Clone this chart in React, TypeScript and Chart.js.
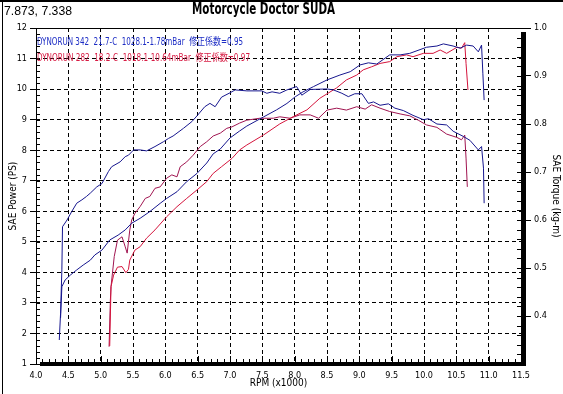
import React, { useEffect, useRef } from 'react';
import { Chart, registerables } from 'chart.js';

Chart.register(...registerables);

// ---------- text ----------
const headerCoords = '7.873, 7.338';
const chartTitle = 'Motorcycle Doctor SUDA';
const runLabels = [
  'DYNORUN 342  21.7-C  1028.1-1.78mBar  修正係数=0.95',
  'DYNORUN 282  18.2-C  1018.1-10.64mBar  修正係数=0.97',
];
const xTitle = 'RPM (x1000)';
const powerTitle = 'SAE Power (PS)';
const torqueTitle = 'SAE Torque (kg-m)';

// ---------- ticks ----------
const rpmTicks = [4.0, 4.5, 5.0, 5.5, 6.0, 6.5, 7.0, 7.5, 8.0, 8.5, 9.0, 9.5, 10.0, 10.5, 11.0, 11.5];
const powerTicks = [1, 2, 3, 4, 5, 6, 7, 8, 9, 10, 11, 12];
const torqueTicks = [0.4, 0.5, 0.6, 0.7, 0.8, 0.9, 1.0];
const torqueMin = 0.3;
const rpmMinor = 0.1;
const powerMinor = 0.2;
const torqueMinor = 0.02;

// ---------- run 342 (blue) ----------
const blueTorqueRpm = [4.36, 4.38, 4.40, 4.41, 4.48, 4.55, 4.63, 4.71, 4.78, 4.84, 4.94, 5.02, 5.12, 5.17, 5.30, 5.38, 5.43, 5.51, 5.61, 5.71, 5.84, 5.97, 6.05, 6.12, 6.28, 6.41, 6.49, 6.61, 6.69, 6.77, 6.87, 7.00, 7.08, 7.26, 7.49, 7.57, 7.65, 7.77, 7.88, 8.03, 8.11, 8.24, 8.50, 8.60, 8.73, 8.83, 8.93, 9.04, 9.14, 9.22, 9.32, 9.45, 9.55, 9.68, 9.83, 9.99, 10.07, 10.20, 10.35, 10.45, 10.61, 10.71, 10.84, 10.89, 10.92, 10.93];
const blueTorque = [0.350, 0.406, 0.496, 0.586, 0.600, 0.617, 0.635, 0.642, 0.649, 0.656, 0.669, 0.676, 0.701, 0.711, 0.721, 0.732, 0.735, 0.746, 0.746, 0.744, 0.753, 0.763, 0.770, 0.775, 0.791, 0.805, 0.817, 0.836, 0.843, 0.836, 0.856, 0.865, 0.871, 0.869, 0.869, 0.864, 0.867, 0.864, 0.871, 0.878, 0.860, 0.872, 0.873, 0.871, 0.864, 0.857, 0.863, 0.863, 0.843, 0.846, 0.839, 0.842, 0.833, 0.828, 0.818, 0.809, 0.811, 0.800, 0.798, 0.785, 0.774, 0.766, 0.746, 0.753, 0.708, 0.635];
const bluePowerRpm = [4.38, 4.40, 4.45, 4.53, 4.63, 4.73, 4.84, 4.91, 5.02, 5.14, 5.27, 5.38, 5.48, 5.61, 5.76, 5.92, 6.02, 6.18, 6.33, 6.49, 6.64, 6.74, 6.85, 7.00, 7.15, 7.26, 7.52, 7.72, 7.88, 8.01, 8.13, 8.29, 8.50, 8.70, 8.86, 9.01, 9.14, 9.27, 9.47, 9.63, 9.78, 10.04, 10.20, 10.30, 10.45, 10.56, 10.66, 10.76, 10.84, 10.89, 10.91, 10.93];
const bluePower = [2.51, 3.53, 3.75, 3.91, 4.08, 4.24, 4.40, 4.57, 4.73, 5.06, 5.22, 5.39, 5.61, 5.77, 5.99, 6.26, 6.42, 6.64, 6.97, 7.24, 7.58, 7.88, 8.04, 8.40, 8.63, 8.79, 9.09, 9.32, 9.53, 9.75, 9.91, 10.08, 10.30, 10.46, 10.57, 10.79, 10.86, 10.82, 11.12, 11.12, 11.17, 11.37, 11.41, 11.48, 11.41, 11.34, 11.44, 11.41, 11.22, 11.44, 10.52, 9.64];

// ---------- run 282 (red) ----------
const redTorqueRpm = [5.13, 5.15, 5.16, 5.21, 5.26, 5.33, 5.38, 5.41, 5.45, 5.48, 5.53, 5.61, 5.69, 5.76, 5.84, 5.92, 6.02, 6.10, 6.18, 6.23, 6.33, 6.43, 6.54, 6.64, 6.74, 6.85, 6.95, 7.03, 7.15, 7.26, 7.46, 7.67, 7.77, 7.93, 8.08, 8.24, 8.37, 8.50, 8.65, 8.80, 8.96, 9.09, 9.19, 9.32, 9.47, 9.63, 9.78, 9.91, 10.04, 10.20, 10.35, 10.51, 10.58, 10.63, 10.65, 10.67];
const redTorque = [0.336, 0.433, 0.461, 0.524, 0.558, 0.565, 0.544, 0.531, 0.579, 0.600, 0.614, 0.628, 0.645, 0.649, 0.666, 0.669, 0.687, 0.694, 0.690, 0.711, 0.721, 0.735, 0.753, 0.763, 0.775, 0.781, 0.791, 0.794, 0.802, 0.808, 0.812, 0.812, 0.815, 0.812, 0.819, 0.819, 0.812, 0.829, 0.833, 0.829, 0.836, 0.831, 0.840, 0.833, 0.826, 0.821, 0.817, 0.808, 0.798, 0.793, 0.779, 0.772, 0.767, 0.777, 0.729, 0.669];
const redPowerRpm = [5.14, 5.16, 5.20, 5.26, 5.33, 5.39, 5.43, 5.45, 5.53, 5.61, 5.71, 5.84, 6.02, 6.18, 6.33, 6.49, 6.64, 6.74, 6.87, 7.03, 7.15, 7.26, 7.52, 7.77, 7.98, 8.19, 8.39, 8.52, 8.65, 8.80, 8.96, 9.06, 9.19, 9.32, 9.47, 9.58, 9.73, 9.83, 9.99, 10.14, 10.25, 10.35, 10.51, 10.58, 10.63, 10.65, 10.68];
const redPower = [1.59, 3.53, 3.91, 4.17, 4.19, 3.99, 4.10, 4.40, 4.73, 4.84, 5.12, 5.39, 5.82, 6.15, 6.42, 6.70, 6.97, 7.24, 7.46, 7.73, 8.01, 8.17, 8.50, 8.86, 9.10, 9.32, 9.70, 9.87, 10.04, 10.30, 10.46, 10.63, 10.73, 10.84, 10.90, 11.06, 11.12, 11.06, 11.17, 11.17, 11.28, 11.17, 11.37, 11.34, 11.52, 10.84, 9.97];

// ---------- styles ----------
const NARROW = '"Liberation Sans Narrow", "DejaVu Sans Condensed", "Liberation Sans", "Noto Sans CJK JP", sans-serif';
const BLUE_LINE = '#16168e';
const RED_POWER = '#d4143c';
const RED_TORQUE = '#a01450';
const LEGEND_COLORS = ['#1c2cc4', '#d81c44'];

const zip = (xs: number[], ys: number[]) => xs.map((x, i) => ({ x, y: ys[i] }));

function fitText(ctx: CanvasRenderingContext2D, text: string, x: number, y: number, width: number, font: string, color: string) {
  ctx.save();
  ctx.font = font;
  ctx.fillStyle = color;
  ctx.textAlign = 'left';
  ctx.textBaseline = 'alphabetic';
  const w = ctx.measureText(text).width || 1;
  ctx.translate(x, y);
  ctx.scale(width / w, 1);
  ctx.fillText(text, 0, 0);
  ctx.restore();
}

const decorPlugin = {
  id: 'decor',
  afterDraw(chart: any) {
    const { ctx, chartArea: a, scales } = chart;
    const xs = scales.x;
    const ys = scales.y;
    const ts = scales.y1;
    ctx.save();
    ctx.fillStyle = '#000';
    // sunken outer frame (top / left)
    ctx.fillRect(0, 0, chart.width, 2);
    ctx.fillRect(2, 0, 1, chart.height);

    // plot frame top / left
    ctx.strokeStyle = '#000';
    ctx.lineWidth = 1;
    ctx.beginPath();
    ctx.moveTo(a.left + 0.5, a.bottom);
    ctx.lineTo(a.left + 0.5, a.top + 0.5);
    ctx.lineTo(a.right, a.top + 0.5);
    ctx.stroke();

    // minor ticks
    ctx.beginPath();
    const xMin = rpmTicks[0];
    const xMax = rpmTicks[rpmTicks.length - 1];
    const nx = Math.round((xMax - xMin) / rpmMinor);
    for (let i = 0; i <= nx; i++) {
      const px = Math.round(xs.getPixelForValue(xMin + i * rpmMinor)) + 0.5;
      const len = i % 5 === 0 ? 6 : 3;
      ctx.moveTo(px, a.bottom - 2);
      ctx.lineTo(px, a.bottom - 2 - len);
    }
    const pMin = powerTicks[0];
    const pMax = powerTicks[powerTicks.length - 1];
    const np = Math.round((pMax - pMin) / powerMinor);
    for (let i = 0; i <= np; i++) {
      const py = Math.round(ys.getPixelForValue(pMin + i * powerMinor)) + 0.5;
      ctx.moveTo(a.left, py);
      ctx.lineTo(a.left + 4, py);
    }
    const tMax = torqueTicks[torqueTicks.length - 1];
    const nt = Math.round((tMax - torqueMin) / torqueMinor);
    for (let i = 0; i <= nt; i++) {
      const py = Math.round(ts.getPixelForValue(torqueMin + i * torqueMinor)) + 0.5;
      ctx.moveTo(a.right - 4, py);
      ctx.lineTo(a.right, py);
    }
    ctx.stroke();

    // shadow bars (right / bottom)
    ctx.fillRect(a.right, a.top + 4, 5, a.bottom + 2 - (a.top + 4));
    ctx.fillRect(a.left + 4, a.bottom - 2, a.right + 5 - (a.left + 4), 4);

    // texts
    fitText(ctx, headerCoords, 4, 15, 68, '12px "Liberation Sans", sans-serif', '#000');
    fitText(ctx, chartTitle, 192, 14, 143, 'bold 15px ' + NARROW, '#000');
    fitText(ctx, runLabels[0], a.left + 1, 45, 206, '10px ' + NARROW, LEGEND_COLORS[0]);
    fitText(ctx, runLabels[1], a.left + 1, 60.5, 213, '10px ' + NARROW, LEGEND_COLORS[1]);
    ctx.restore();
  },
};

const tickFont = { family: NARROW, size: 9 };
const titleFont = { family: NARROW, size: 10 };

export default function App() {
  const ref = useRef<HTMLCanvasElement>(null);

  useEffect(() => {
    const canvas = ref.current;
    if (!canvas) return;
    const xMin = rpmTicks[0];
    const xMax = rpmTicks[rpmTicks.length - 1];
    const pMin = powerTicks[0];
    const pMax = powerTicks[powerTicks.length - 1];
    const tMax = torqueTicks[torqueTicks.length - 1];

    const chart = new Chart(canvas, {
      type: 'line',
      data: {
        datasets: [
          { label: 'DYNORUN 342 Power', data: zip(bluePowerRpm, bluePower), yAxisID: 'y', borderColor: BLUE_LINE, backgroundColor: BLUE_LINE },
          { label: 'DYNORUN 342 Torque', data: zip(blueTorqueRpm, blueTorque), yAxisID: 'y1', borderColor: BLUE_LINE, backgroundColor: BLUE_LINE },
          { label: 'DYNORUN 282 Power', data: zip(redPowerRpm, redPower), yAxisID: 'y', borderColor: RED_POWER, backgroundColor: RED_POWER },
          { label: 'DYNORUN 282 Torque', data: zip(redTorqueRpm, redTorque), yAxisID: 'y1', borderColor: RED_TORQUE, backgroundColor: RED_TORQUE },
        ],
      },
      options: {
        responsive: false,
        animation: false,
        devicePixelRatio: 1,
        layout: { padding: { top: 28, left: 0, right: 0, bottom: 0 } },
        elements: {
          point: { radius: 0, hoverRadius: 0 },
          line: { borderWidth: 1, tension: 0, fill: false },
        },
        plugins: {
          legend: { display: false },
          tooltip: { enabled: false },
          title: { display: false },
        },
        scales: {
          x: {
            type: 'linear',
            position: 'bottom',
            min: xMin,
            max: xMax,
            afterBuildTicks: (s: any) => { s.ticks = rpmTicks.map((v) => ({ value: v })); },
            afterFit: (s: any) => { s.height = 30; },
            ticks: {
              autoSkip: false,
              maxRotation: 0,
              padding: 6,
              color: '#000',
              font: tickFont,
              callback: (v: any) => Number(v).toFixed(1),
            },
            grid: {
              drawTicks: false,
              lineWidth: 1,
              color: (c: any) => (c.tick && (c.tick.value === xMin || c.tick.value === xMax) ? 'rgba(0,0,0,0)' : '#000'),
            },
            border: { display: false, dash: [4, 3] },
            title: { display: true, text: xTitle, color: '#000', font: titleFont, padding: { top: 0, bottom: 5 } },
          },
          y: {
            type: 'linear',
            position: 'left',
            min: pMin,
            max: pMax,
            afterBuildTicks: (s: any) => { s.ticks = powerTicks.map((v) => ({ value: v })); },
            afterFit: (s: any) => { s.width = 36; },
            ticks: { padding: 3, color: '#000', font: tickFont, callback: (v: any) => String(v) },
            grid: {
              drawTicks: true,
              tickLength: 6,
              tickColor: '#000',
              lineWidth: 1,
              color: (c: any) => (c.tick && (c.tick.value === pMin || c.tick.value === pMax) ? 'rgba(0,0,0,0)' : '#000'),
            },
            border: { display: false, dash: [4, 3] },
            title: { display: true, text: powerTitle, color: '#000', font: titleFont, padding: { top: 7, bottom: 0 } },
          },
          y1: {
            type: 'linear',
            position: 'right',
            min: torqueMin,
            max: tMax,
            afterBuildTicks: (s: any) => { s.ticks = torqueTicks.map((v) => ({ value: v })); },
            afterFit: (s: any) => { s.width = 42; },
            ticks: { padding: 3, color: '#000', font: tickFont, callback: (v: any) => Number(v).toFixed(1) },
            grid: { drawOnChartArea: false, drawTicks: true, tickLength: 10, tickColor: '#000', lineWidth: 1 },
            border: { display: false },
            title: { display: true, text: torqueTitle, color: '#000', font: titleFont, padding: { top: 1, bottom: 0 } },
          },
        },
      },
      plugins: [decorPlugin],
    } as any);

    return () => chart.destroy();
  }, []);

  return (
    <div style={{ position: 'absolute', left: 0, top: 0, width: 563, height: 394, background: '#fff' }}>
      <canvas ref={ref} width={563} height={394} style={{ display: 'block', width: 563, height: 394 }} />
    </div>
  );
}
